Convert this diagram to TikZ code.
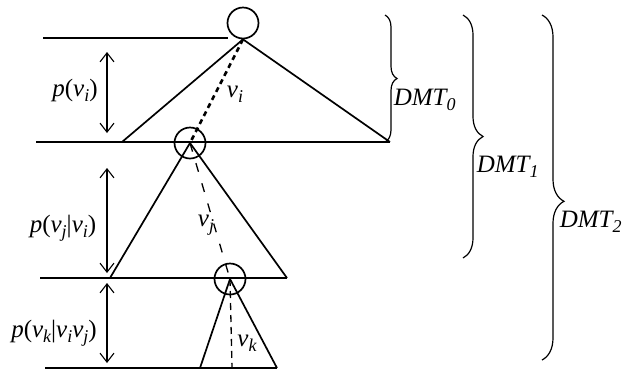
\documentclass[tikz,border=0pt]{standalone}
\usepackage{fontspec}
\setmainfont{Liberation Serif}
\usetikzlibrary{arrows.meta,decorations.pathreplacing}
\newcommand{\lo}[1]{\raisebox{-5pt}{\fontsize{18}{20}\selectfont #1}}

\begin{document}
\begin{tikzpicture}[x=1pt,y=-1pt,line width=1.7pt,
  knot/.style={circle,draw,minimum size=31pt,inner sep=0pt},
  dim/.style={{Straight Barb[length=9pt,width=14pt]}-{Straight Barb[length=9pt,width=14pt]},line width=1.1pt},
  lbl/.style={font=\fontsize{25}{30}\selectfont\itshape,inner sep=0pt},
  br/.style={decorate,decoration={brace,amplitude=#1},line width=1.2pt}]
\useasboundingbox (0,0) rectangle (627,384);
% roots of the three sub-trees
\node[knot] (n0) at (243,23) {};
\node[knot] (n1) at (190,143) {};
\node[knot] (n2) at (230,279) {};
% levels
\coordinate (h0) at (43,38);  \coordinate (h0e) at (228,38);
\coordinate (h1) at (36,142); \coordinate (t0l) at (122,142); \coordinate (t0r) at (390,142);
\coordinate (h2) at (40,278); \coordinate (t1l) at (110,278); \coordinate (t1r) at (287,278);
\coordinate (h3) at (45,368); \coordinate (t2l) at (200,368); \coordinate (t2r) at (277,368);
\coordinate (t2m) at (232,368);
\draw (h0) -- (h0e);
\draw (h1) -- (t0r);
\draw (h2) -- (t1r);
\draw (h3) -- (t2r);
% triangles
\draw (t0l) -- (n0.south) -- (t0r);
\draw (t1l) -- (n1.center) -- (t1r);
\draw (t2l) -- (n2.center) -- (t2r);
% paths
\draw[line width=2.6pt,dash pattern=on 5pt off 4pt] (n0.south) -- (n1.center);
\draw[line width=1.3pt,dash pattern=on 9pt off 12pt] (n1.center) -- (n2.center);
\draw[line width=1.3pt,dash pattern=on 7pt off 5pt] (n2.center) -- (t2m);
\node[lbl] (vi) at (235,94) {v\lo{i}};
\node[lbl] (vj) at (206,225) {v\lo{j}};
\node[lbl] (vk) at (247,343) {v\lo{k}};
% probabilities
\coordinate (d0a) at (107,52);  \coordinate (d0b) at (107,133);
\coordinate (d1a) at (107,168); \coordinate (d1b) at (107,273);
\coordinate (d2a) at (107,283); \coordinate (d2b) at (107,363);
\draw[dim] (d0a) -- (d0b);
\draw[dim] (d1a) -- (d1b);
\draw[dim] (d2a) -- (d2b);
\node[lbl] (p0) at (75,90) {p\textup{(}v\lo{i}\textup{)}};
\node[lbl] (p1) at (63,228) {p\textup{(}v\lo{j}\textup{|}v\lo{i}\textup{)}};
\node[lbl] (p2) at (54,333) {p\textup{(}v\lo{k}\textup{|}v\lo{i}v\lo{j}\textup{)}};
% sub-trees
\coordinate (b0a) at (385,15); \coordinate (b0b) at (385,142);
\coordinate (b1a) at (463,15); \coordinate (b1b) at (463,258);
\coordinate (b2a) at (542,15); \coordinate (b2b) at (542,360);
\draw[br=12] (b0a) -- (b0b);
\draw[br=20] (b1a) -- (b1b);
\draw[br=22,decoration={aspect=0.54}] (b2a) -- (b2b);
\node[lbl,anchor=west] (m0) at (393,100) {DMT\lo{0}};
\node[lbl,anchor=west] (m1) at (476,167) {DMT\lo{1}};
\node[lbl,anchor=west] (m2) at (559,222) {DMT\lo{2}};
\end{tikzpicture}
\end{document}
